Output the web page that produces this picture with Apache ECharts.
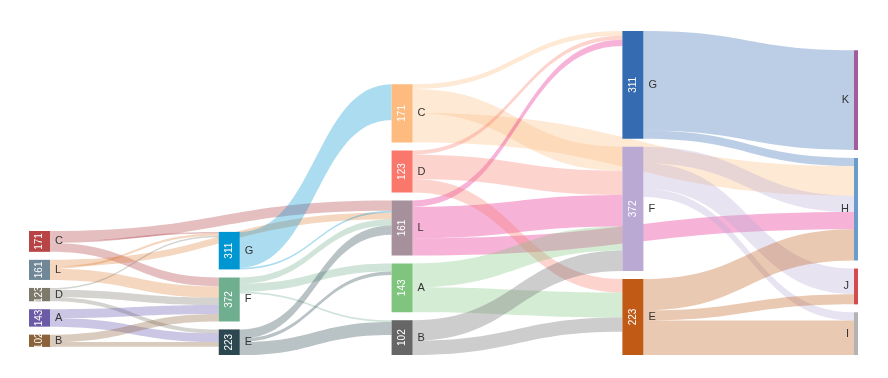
<!DOCTYPE html>
<html>
<head>
<meta charset="utf-8">
<script src="https://cdn.jsdelivr.net/npm/echarts@6/dist/echarts.min.js"></script>
<style>
html,body{margin:0;padding:0;background:#fff;}
#main{width:888px;height:378px;}
</style>
</head>
<body>
<div id="main"></div>
<script>
// nodes, column by column (same letter can show up in two columns)
var nodeNames  = ['C','L','D','A','B', 'G','F','E', 'C','L','D','A','B', 'G','F','E', 'K','H','J','I'];
var nodeLayers = [ 0,  0,  0,  0,  0,   1,  1,  1,   2,  2,  2,  2,  2,   3,  3,  3,   4,  4,  4,  4 ];
var nodeColors = ['#b94445','#6f8797','#7d7a6c','#6b5aa6','#8b6239',
                  '#0096d2','#6fae8f','#2c4750',
                  '#fdbb80','#a6909b','#f9786b','#7fc57d','#666666',
                  '#356bb0','#b9a9d3','#c05a15',
                  '#a05c9c','#6b9bcb','#d34a4f','#b3b3b3'];
// colour of the flows leaving each node
var flowColors = ['#b03a40','#e0843a','#7d7a6c','#6152aa','#8b6239',
                  '#0096d2','#6fae8f','#2c4750',
                  '#fdbb80','#e8168a','#f9786b','#7fc57d','#666666',
                  '#356bb0','#b9a9d3','#c05a15',
                  '#a05c9c','#6b9bcb','#d34a4f','#b3b3b3'];

// value printed inside the node boxes
var shownNames  = ['C','L','D','A','B','G','F','E'];
var shownValues = [171,161,123,143,102,311,372,223];

// flows
var linkSource = ['C0','C0','C0', 'L0','L0','L0', 'D0','D0','D0', 'A0','A0', 'B0','B0',
                  'G1','G1', 'F1','F1','F1', 'E1','E1','E1',
                  'C2','C2','C2', 'L2','L2','L2', 'D2','D2','D2', 'A2','A2', 'B2','B2',
                  'G3','G3', 'F3','F3','F3', 'E3','E3','E3'];
var linkTarget = ['G1','L2','F1', 'G1','L2','F1', 'G1','F1','E1', 'F1','E1', 'F1','E1',
                  'C2','L2', 'L2','A2','B2', 'L2','A2','B2',
                  'G3','F3','H4', 'G3','F3','H4', 'G3','F3','E3', 'F3','E3', 'F3','E3',
                  'K4','H4', 'H4','J4','I4', 'H4','J4','I4'];
var linkValue  = [5,30,26, 6,20,33, 5,22,12, 26,25, 22,14,
                  105,5, 18,24,5, 27,10,38,
                  14,70,87, 18,93,50, 12,71,40, 70,73, 60,42,
                  292,24, 48,75,24, 92,30,101];

var layerDepth = [0, 0.92, 1.758, 2.877, 4];//column spacing
var FONT = 'Liberation Sans';

function nodeId(i){ return nodeNames[i] + nodeLayers[i]; }
function shownValue(name){
	var k = shownNames.indexOf(name);
	return k < 0 ? '' : String(shownValues[k]);
}
function thinBar(c){//last column: only a slim strip of the box is painted
	return new echarts.graphic.LinearGradient(0, 0, 1, 0, [
		{offset: 0, color: c}, {offset: 0.2, color: c},
		{offset: 0.2, color: 'rgba(0,0,0,0)'}, {offset: 1, color: 'rgba(0,0,0,0)'}
	]);
}

var nodesMain = [], nodesText = [], linksMain = [], linksText = [];
for(var i=0;i<nodeNames.length;i++)
{
	var last = nodeLayers[i] == 4;
	nodesMain.push({
		name: nodeId(i),
		depth: layerDepth[nodeLayers[i]],
		itemStyle: {color: last ? thinBar(nodeColors[i]) : nodeColors[i]},
		label: {show: !last}
	});
	nodesText.push({
		name: nodeId(i),
		depth: layerDepth[nodeLayers[i]],
		itemStyle: {color: 'rgba(0,0,0,0)'},
		label: {position: last ? 'left' : 'right'}
	});
}
for(var j=0;j<linkSource.length;j++)
{
	var si = -1;
	for(var k=0;k<nodeNames.length;k++) if(nodeId(k)==linkSource[j]) si = k;
	linksMain.push({source: linkSource[j], target: linkTarget[j], value: linkValue[j],
		lineStyle: {color: flowColors[si]}});
	linksText.push({source: linkSource[j], target: linkTarget[j], value: linkValue[j]});
}

var layout = {
	left: 29, right: 13, top: 31, bottom: 23,
	nodeWidth: 21, nodeGap: 8, nodeAlign: 'left',
	layoutIterations: 32,
	draggable: false, silent: true
};

var chart = echarts.init(document.getElementById('main'));
var option = {
	backgroundColor: '#fff',
	animation: false,
	series: [
		Object.assign({
			type: 'sankey',
			data: nodesMain,
			links: linksMain,
			emphasis: {disabled: true},
			itemStyle: {borderWidth: 0},
			lineStyle: {opacity: 0.33, curveness: 0.5},
			label: {
				show: true, position: 'inside', rotate: 90,
				color: '#fff', fontSize: 10, fontFamily: FONT,
				formatter: function(p){ return shownValue(nodeNames[p.dataIndex]); }
			}
		}, layout),
		Object.assign({
			type: 'sankey',
			data: nodesText,
			links: linksText,
			emphasis: {disabled: true},
			itemStyle: {borderWidth: 0},
			lineStyle: {color: 'rgba(0,0,0,0)', opacity: 0},
			label: {
				show: true, distance: 5,
				color: '#333', fontSize: 11, fontFamily: FONT,
				formatter: function(p){ return nodeNames[p.dataIndex]; }
			}
		}, layout)
	]
};
chart.setOption(option);
</script>
</body>
</html>
